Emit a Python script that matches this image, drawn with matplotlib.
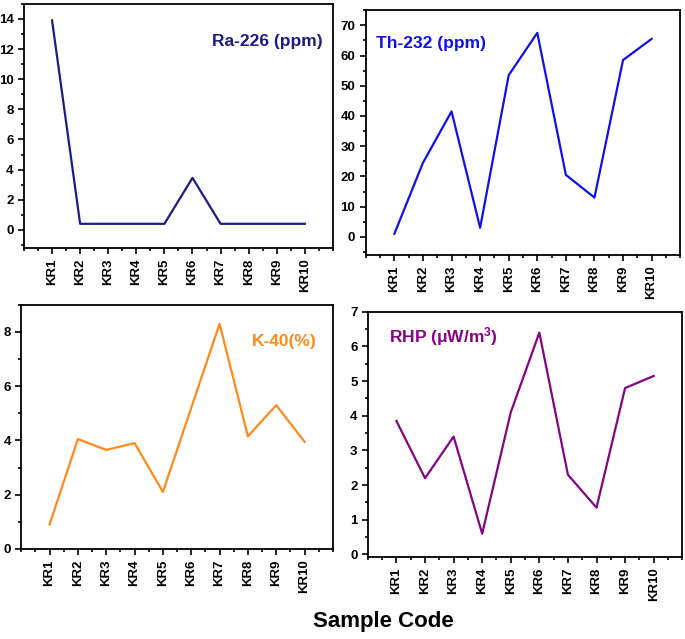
import numpy as np
import matplotlib
matplotlib.use("Agg")
import matplotlib.pyplot as plt
from matplotlib.ticker import MultipleLocator

plt.rcParams["font.family"] = ["Liberation Sans", "DejaVu Sans"]
plt.rcParams["font.weight"] = "bold"
plt.rcParams["mathtext.fontset"] = "custom"
plt.rcParams["mathtext.rm"] = "Liberation Sans:bold"
plt.rcParams["mathtext.bf"] = "Liberation Sans:bold"
plt.rcParams["mathtext.it"] = "Liberation Sans:bold"

# ---------------------------------------------------------------------------
# Data
# ---------------------------------------------------------------------------
samples = ["KR1", "KR2", "KR3", "KR4", "KR5", "KR6", "KR7", "KR8", "KR9", "KR10"]
ra226 = [13.9, 0.4, 0.4, 0.4, 0.4, 3.45, 0.4, 0.4, 0.4, 0.4]
th232 = [1.0, 24.5, 41.5, 3.0, 53.5, 67.5, 20.5, 13.0, 58.5, 65.5]
k40 = [0.9, 4.05, 3.65, 3.9, 2.1, 5.2, 8.3, 4.15, 5.3, 3.95]
rhp = [3.85, 2.2, 3.4, 0.6, 4.1, 6.4, 2.3, 1.35, 4.8, 5.15]

x = np.arange(1, len(samples) + 1)

fig = plt.figure(figsize=(6.85, 6.39), dpi=100)

panels = [
    # rect, values, colour, label, text pos, ha, ylim, major, minor
    ([0.035, 0.612, 0.451, 0.382], ra226, "#1c1c84", "Ra-226 (ppm)", (0.968, 0.844), "right", (-1.2, 15), 2, 1),
    ([0.534, 0.601, 0.459, 0.383], th232, "#1010e8", "Th-232 (ppm)", (0.032, 0.865), "left", (-6, 75), 10, 5),
    ([0.031, 0.141, 0.455, 0.382], k40, "#ff8a1c", "K-40(%)", (0.949, 0.848), "right", (0, 9), 2, 1),
    ([0.537, 0.128, 0.459, 0.384], rhp, "#840484", "RHP (\u03bcW/m$^{3}$)", (0.067, 0.898), "left", (-0.08, 7), 1, 0.5),
]

for rect, vals, col, label, tpos, ha, ylim, maj, mnr in panels:
    ax = fig.add_axes(rect)
    ax.plot(x, vals, color=col, linewidth=1.6)
    ax.set_xlim(0, 11)
    ax.set_ylim(*ylim)
    ax.set_xticks(x)
    ax.set_xticklabels(samples, rotation=90, fontsize=9.5, fontweight="bold")
    ax.xaxis.set_minor_locator(MultipleLocator(0.5))
    ax.yaxis.set_major_locator(MultipleLocator(maj))
    ax.yaxis.set_minor_locator(MultipleLocator(mnr))
    for t in ax.get_yticklabels():
        t.set_fontsize(9.5)
        t.set_fontweight("bold")
    ax.tick_params(which="both", direction="out", width=1.2)
    ax.tick_params(which="major", length=4)
    ax.tick_params(which="minor", length=2.5)
    for s in ax.spines.values():
        s.set_linewidth(1.3)
    ax.text(tpos[0], tpos[1], label, transform=ax.transAxes, ha=ha, va="center",
            color=col, fontsize=12.5, fontweight="bold")

fig.text(0.56, 0.027, "Sample Code", ha="center", va="center",
         fontsize=16, fontweight="bold")

plt.savefig("out.png", dpi=100)
plt.close()
